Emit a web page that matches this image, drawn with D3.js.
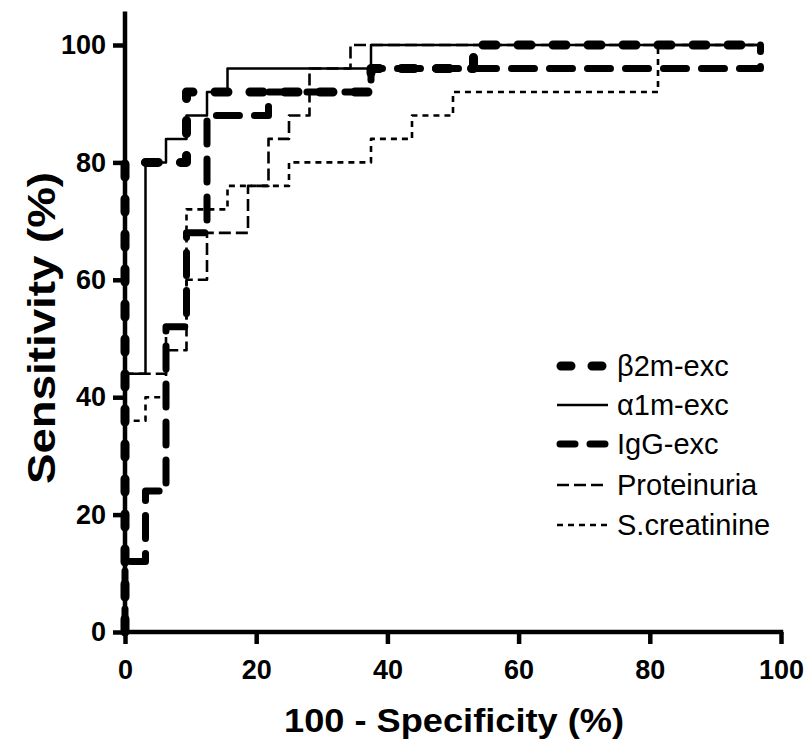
<!DOCTYPE html>
<html>
<head>
<meta charset="utf-8">
<script src="https://cdn.jsdelivr.net/npm/d3@7"></script>
<style>
  html, body { margin: 0; padding: 0; background: #fff; }
  svg { display: block; }
  text { font-family: "Liberation Sans", Arial, Helvetica, sans-serif; fill: #000; }
</style>
</head>
<body>
<svg id="chart" width="808" height="747"></svg>
<script>
// ---- data (100 - specificity %, sensitivity %) ----
const xTicks = [0, 20, 40, 60, 80, 100];
const yTicks = [0, 20, 40, 60, 80, 100];

const beta2m = [[0,0],[0,80],[9.375,80],[9.375,92],[37.5,92],[37.5,96],[53.125,96],[53.125,100],[96.875,100]];
const alpha1m = [[0,0],[0,44],[3.125,44],[3.125,80],[6.25,80],[6.25,84],[9.375,84],[9.375,88],[12.5,88],[12.5,92],[15.625,92],[15.625,96],[37.5,96],[37.5,100],[96.875,100]];
const iggExc = [[0,0],[0,12],[3.125,12],[3.125,24],[6.25,24],[6.25,52],[9.375,52],[9.375,68],[12.5,68],[12.5,88],[21.875,88],[21.875,92],[37.5,92],[37.5,96],[96.875,96],[96.875,100]];
const proteinuria = [[0,0],[0,44],[6.25,44],[6.25,48],[9.375,48],[9.375,60],[12.5,60],[12.5,68],[18.75,68],[18.75,76],[21.875,76],[21.875,84],[25,84],[25,88],[28.125,88],[28.125,96],[34.375,96],[34.375,100],[96.875,100]];
const sCreatinine = [[0,0],[0,36],[3.125,36],[3.125,40],[6.25,40],[6.25,52],[9.375,52],[9.375,72],[15.625,72],[15.625,76],[25,76],[25,80],[37.5,80],[37.5,84],[43.75,84],[43.75,88],[50,88],[50,92],[81.25,92],[81.25,100],[96.875,100]];

const seriesNames = ["\u03B22m-exc", "\u03B11m-exc", "IgG-exc", "Proteinuria", "S.creatinine"];
const seriesData = [beta2m, alpha1m, iggExc, proteinuria, sCreatinine];

// ---- styles ----
const styles = [
  { w: 9,   dash: "13,22", cap: "round" },
  { w: 2.5, dash: null,    cap: "butt" },
  { w: 7,   dash: "23,15", cap: "round" },
  { w: 2.6, dash: "12,5",  cap: "butt" },
  { w: 2.6, dash: "6,5",   cap: "butt" }
];

const svg = d3.select("#chart");
const x = d3.scaleLinear().domain([0, 100]).range([125, 781]);
const y = d3.scaleLinear().domain([0, 100]).range([632, 45]);

// curves: thin ones first, heavy on top
const drawOrder = [4, 3, 1, 2, 0];
const line = d3.line().x(d => x(d[0])).y(d => y(d[1]));
drawOrder.forEach(i => {
  const s = styles[i];
  svg.append("path")
    .datum(seriesData[i])
    .attr("d", line)
    .attr("fill", "none")
    .attr("stroke", "#000")
    .attr("stroke-width", s.w)
    .attr("stroke-linecap", s.cap)
    .attr("stroke-linejoin", "round")
    .attr("stroke-dasharray", s.dash);
});

// axes
const axW = 4.5;
const gx = svg.append("g").attr("transform", `translate(0,${y(0)})`)
  .call(d3.axisBottom(x).tickValues(xTicks).tickSize(12).tickPadding(16).tickFormat(d3.format("d")));
const gy = svg.append("g").attr("transform", `translate(${x(0)},0)`)
  .call(d3.axisLeft(y).tickValues(yTicks).tickSize(12).tickPadding(7).tickFormat(d3.format("d")));
[gx, gy].forEach(g => {
  g.select(".domain").remove();
  g.selectAll(".tick line").attr("stroke", "#000").attr("stroke-width", axW);
  g.selectAll(".tick text").attr("font-size", 27).attr("font-weight", "bold")
    .attr("font-family", "'Liberation Sans', Arial, sans-serif").attr("fill", "#000");
});
// axis lines
svg.append("line").attr("x1", x(0)).attr("x2", x(100)).attr("y1", y(0)).attr("y2", y(0))
  .attr("stroke", "#000").attr("stroke-width", axW).attr("stroke-linecap", "square");
svg.append("line").attr("x1", x(0)).attr("x2", x(0)).attr("y1", y(0)).attr("y2", y(105.7))
  .attr("stroke", "#000").attr("stroke-width", axW);

// axis titles
svg.append("text").attr("x", 454).attr("y", 732).attr("text-anchor", "middle")
  .attr("font-size", 34).attr("font-weight", "bold")
  .attr("textLength", 340).attr("lengthAdjust", "spacingAndGlyphs")
  .text("100 - Specificity (%)");
svg.append("text").attr("transform", "translate(55,328) rotate(-90)").attr("text-anchor", "middle")
  .attr("font-size", 38).attr("font-weight", "bold")
  .attr("textLength", 312).attr("lengthAdjust", "spacingAndGlyphs")
  .text("Sensitivity (%)");

// legend
const legY = [366, 405, 444, 485, 525];
seriesNames.forEach((name, i) => {
  const s = styles[i];
  const ly = legY[i];
  svg.append("line")
    .attr("x1", i === 0 ? 561 : (i === 2 ? 560 : 557)).attr("x2", i === 0 ? 604 : (i === 2 ? 605 : 608))
    .attr("y1", ly).attr("y2", ly)
    .attr("stroke", "#000").attr("stroke-width", s.w)
    .attr("stroke-linecap", s.cap)
    .attr("stroke-dasharray", i === 0 ? "10,21" : (i === 2 ? "15,15" : s.dash));
  svg.append("text").attr("x", 617).attr("y", ly).attr("dy", "0.36em")
    .attr("font-size", 29).text(name);
});
</script>
</body>
</html>
